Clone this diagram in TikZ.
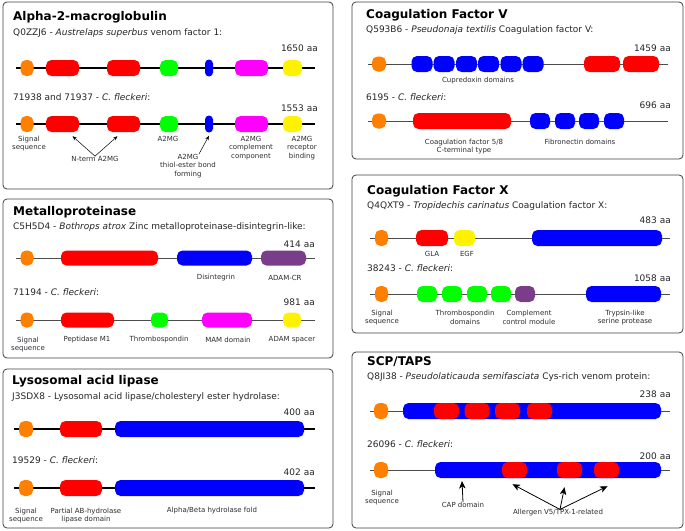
\documentclass[tikz,border=0pt]{standalone}
\usepackage{fontspec}
\setmainfont{DejaVu Sans}
\usetikzlibrary{arrows.meta, positioning, calc}
\definecolor{adampurple}{RGB}{122,61,138}
\definecolor{labgray}{RGB}{45,45,50}
\definecolor{mamcolor}{RGB}{255,0,255}
\definecolor{sigorange}{RGB}{255,128,0}
\tikzset{
        x=1pt, y=-1pt,
        panel/.style={draw=black!75, line width=0.8pt, rounded corners=4pt, fill=white}, % frame round each family
        title/.style={anchor=west, inner sep=0pt, font=\fontsize{12}{14}\selectfont\bfseries},
        sub/.style={anchor=west, inner sep=0pt, text=black!85, font=\fontsize{9}{11}\selectfont},
        len/.style={anchor=east, inner sep=0pt, text=black!85, font=\fontsize{9}{11}\selectfont},
        lab/.style={align=center, inner sep=0pt, text=labgray, font=\fontsize{7}{8.5}\selectfont},
        domain/.style={rectangle, fill=#1, rounded corners=5.5pt, inner sep=0pt, minimum height=16pt},
        thickbone/.style={line width=2pt, black},
        thinbone/.style={line width=0.9pt, black!70},
        pointer/.style={-{Stealth[length=4.5pt,width=3.5pt]}, line width=0.5pt},
        bigpointer/.style={-{Stealth[length=7.5pt,width=6.5pt,inset=2pt]}, line width=0.8pt},
}
\begin{document}
\begin{tikzpicture}
\useasboundingbox (0,0) rectangle (685,530);

% ---- Alpha-2-macroglobulin
\draw[panel] (3,2) rectangle (333,189);
\node[title] (a2t) at (13,17) {Alpha-2-macroglobulin};
\node[sub] (a2s) at (13,33) {Q0ZZJ6 - \textit{Austrelaps superbus} venom factor 1:};
\node[len] (a2l) at (318,48) {1650 aa};
\node[sub] (a2s2) at (13,97) {71938 and 71937 - \textit{C. fleckeri}:};
\node[len] (a2l2) at (318,108) {1553 aa};
\foreach \y/\p in {68/a, 124/b}{
  \coordinate (\p a2w) at (16,\y);
  \coordinate (\p a2e) at (315,\y);
  \draw[thickbone] (\p a2w) -- (\p a2e);
  \foreach \n/\x/\w/\c in {sig/27/13/sigorange, nt1/62.5/33/red, nt2/123.5/33/red, mg/169/18/green,
                           me/292.5/19/yellow, cc/251.5/33/mamcolor}
    \node[domain=\c, minimum width=\w pt] (\p a2\n) at (\x,\y) {};
  \node[domain=blue, minimum width=8pt, minimum height=17pt, rounded corners=4pt] (\p a2th) at (209,\y) {};
}
\node[lab] (a2sig) at (29,143.5) {Signal\\sequence};
\node[lab] (a2nt) at (95,159) {N-term A2MG};
\node[lab] (a2mg) at (168,139) {A2MG};
\node[lab] (a2th) at (188,166) {A2MG\\thiol-ester bond\\forming};
\node[lab] (a2cc) at (251,148) {A2MG\\complement\\component};
\node[lab] (a2rb) at (302,148) {A2MG\\receptor\\binding};
\draw[pointer] (a2nt.north) -- ([shift={(10pt,-4pt)}]ba2nt1.south);
\draw[pointer] (a2nt.north) -- ([shift={(-6pt,-4pt)}]ba2nt2.south);
\draw[pointer] ([xshift=11pt]a2th.north) -- ([yshift=-3pt]ba2th.south);

% ---- Metalloproteinase
\draw[panel] (3,199) rectangle (333,358);
\node[title] (mpt) at (13,212) {Metalloproteinase};
\node[sub] (mps) at (13,227) {C5H5D4 - \textit{Bothrops atrox} Zinc metalloproteinase-disintegrin-like:};
\node[len] (mpl) at (315,244) {414 aa};
\coordinate (mpw) at (16,258);
\coordinate (mpe) at (315,258);
\draw[thinbone] (mpw) -- (mpe);
\foreach \n/\x/\w/\c in {sig/27/13/sigorange, mp/109.5/97/red, dis/214.5/75/blue, cr/283.5/45/adampurple}
  \node[domain=\c, minimum width=\w pt, minimum height=15pt] (amp\n) at (\x,258) {};
\node[lab] (mpdis) at (216,278) {Disintegrin};
\node[lab] (mpcr) at (285,278) {ADAM-CR};
\node[sub] (mps2) at (13,292) {71194 - \textit{C. fleckeri}:};
\node[len] (mpl2) at (315,302) {981 aa};
\coordinate (bmpw) at (16,320);
\coordinate (bmpe) at (315,320);
\draw[thinbone] (bmpw) -- (bmpe);
\foreach \n/\x/\w/\c in {sig/27/13/sigorange, pm/87.5/53/red, ts/159.5/17/green, mam/227/50/mamcolor, sp/292/18/yellow}
  \node[domain=\c, minimum width=\w pt, minimum height=15pt] (bmp\n) at (\x,320) {};
\node[lab] (mpsig) at (28,344.5) {Signal\\sequence};
\foreach \n/\x/\t in {pm/87/Peptidase M1, ts/159/Thrombospondin, mam/228/MAM domain, sp/292/ADAM spacer}
  \node[lab] (mp\n) at (\x,340) {\t};

% ---- Lysosomal acid lipase
\draw[panel] (3,369) rectangle (333,528);
\node[title] (llt) at (12,381) {Lysosomal acid lipase};
\node[sub] (lls) at (12,397) {J3SDX8 - Lysosomal acid lipase/cholesteryl ester hydrolase:};
\node[len] (lll) at (315,412) {400 aa};
\node[sub] (lls2) at (12,460) {19529 - \textit{C. fleckeri}:};
\node[len] (lll2) at (315,472) {402 aa};
\foreach \y/\p in {429/a, 488/b}{
  \coordinate (\p llw) at (14,\y);
  \coordinate (\p lle) at (315,\y);
  \draw[thickbone] (\p llw) -- (\p lle);
  \foreach \n/\x/\w/\c in {sig/26/14/sigorange, ab/81/42/red, fold/209.5/189/blue}
    \node[domain=\c, minimum width=\w pt] (\p ll\n) at (\x,\y) {};
}
\node[lab] (llsig) at (26,515.5) {Signal\\sequence};
\node[lab] (llab) at (86,515.5) {Partial AB-hydrolase\\lipase domain};
\node[lab] (llfold) at (212,511) {Alpha/Beta hydrolase fold};

% ---- Coagulation Factor V
\draw[panel] (352,2) rectangle (683,159);
\node[title] (fvt) at (366,15) {Coagulation Factor V};
\node[sub] (fvs) at (366,30) {Q593B6 - \textit{Pseudonaja textilis} Coagulation factor V:};
\node[len] (fvl) at (671,48) {1459 aa};
\coordinate (fvw) at (368,64);
\coordinate (fve) at (668,64);
\draw[thinbone] (fvw) -- (fve);
\node[domain=sigorange, minimum width=14pt, minimum height=15pt] (afvsig) at (379,64) {};
\foreach \x [count=\i] in {422,444,466.5,488.5,511,533}
  \node[domain=blue, minimum width=21pt] (afvcu\i) at (\x,64) {};
\foreach \x [count=\i] in {602,641}
  \node[domain=red, minimum width=36pt] (afvc\i) at (\x,64) {};
\node[lab] (fvcu) at (478,81) {Cupredoxin domains};
\node[sub] (fvs2) at (366,97) {6195 - \textit{C. fleckeri}:};
\node[len] (fvl2) at (671,105) {696 aa};
\coordinate (bfvw) at (368,121);
\coordinate (bfve) at (668,121);
\draw[thinbone] (bfvw) -- (bfve);
\node[domain=sigorange, minimum width=14pt, minimum height=15pt] (bfvsig) at (379,121) {};
\node[domain=red, minimum width=98pt] (bfvc) at (462,121) {};
\foreach \x [count=\i] in {540,565,589,614}
  \node[domain=blue, minimum width=20pt] (bfvfn\i) at (\x,121) {};
\node[lab] (fvc) at (464,146.5) {Coagulation factor 5/8\\C-terminal type};
\node[lab] (fvfn) at (580,142) {Fibronectin domains};

% ---- Coagulation Factor X
\draw[panel] (352,175) rectangle (683,333);
\node[title] (fxt) at (367,191) {Coagulation Factor X};
\node[sub] (fxs) at (367,206) {Q4QXT9 - \textit{Tropidechis carinatus} Coagulation factor X:};
\node[len] (fxl) at (671,220) {483 aa};
\coordinate (fxw) at (370,238);
\coordinate (fxe) at (670,238);
\draw[thinbone] (fxw) -- (fxe);
\foreach \n/\x/\w/\c in {sig/381.5/13/sigorange, gla/432/32/red, egf/464.5/21/yellow, tr/597/130/blue}
  \node[domain=\c, minimum width=\w pt] (afx\n) at (\x,238) {};
\node[lab] (fxgla) at (432,254) {GLA};
\node[lab] (fxegf) at (467,254) {EGF};
\node[sub] (fxs2) at (367,268) {38243 - \textit{C. fleckeri}:};
\node[len] (fxl2) at (671,278) {1058 aa};
\coordinate (bfxw) at (370,294);
\coordinate (bfxe) at (670,294);
\draw[thinbone] (bfxw) -- (bfxe);
\node[domain=sigorange, minimum width=13pt] (bfxsig) at (381.5,294) {};
\foreach \x [count=\i] in {427,452,477,501}
  \node[domain=green, minimum width=20pt] (bfxts\i) at (\x,294) {};
\node[domain=adampurple, minimum width=20pt] (bfxccp) at (525,294) {};
\node[domain=blue, minimum width=75pt] (bfxtr) at (623.5,294) {};
\foreach \n/\x/\t in {sig/382/Signal\\sequence, ts/465/Thrombospondin\\domains,
                      ccp/529/Complement\\control module, tr/625/Trypsin-like\\serine protease}
  \node[lab] (fx\n) at (\x,317.5) {\t};

% ---- SCP/TAPS
\draw[panel] (352,352) rectangle (683,528);
\node[title] (sct) at (367,362) {SCP/TAPS};
\node[sub] (scs) at (367,377) {Q8JI38 - \textit{Pseudolaticauda semifasciata} Cys-rich venom protein:};
\node[len] (scl) at (671,394) {238 aa};
\coordinate (scw) at (370,411);
\coordinate (sce) at (670,411);
\draw[thinbone] (scw) -- (sce);
\node[domain=sigorange, minimum width=14pt] (ascsig) at (381,411) {};
\node[domain=blue, minimum width=258pt] (asccap) at (532,411) {};
\foreach \x [count=\i] in {446.5,477,507.5,539.5}
  \node[domain=red, minimum width=25pt] (ascv\i) at (\x,411) {};
\node[sub] (scs2) at (367,444) {26096 - \textit{C. fleckeri}:};
\node[len] (scl2) at (671,456) {200 aa};
\coordinate (bscw) at (370,470);
\coordinate (bsce) at (670,470);
\draw[thinbone] (bscw) -- (bsce);
\node[domain=sigorange, minimum width=14pt] (bscsig) at (381,470) {};
\node[domain=blue, minimum width=226pt] (bsccap) at (548,470) {};
\foreach \x [count=\i] in {514.5,569.5,606.5}
  \node[domain=red, minimum width=25pt] (bscv\i) at (\x,470) {};
\node[lab] (scsig) at (382,497.5) {Signal\\sequence};
\node[lab] (sccap) at (463,505) {CAP domain};
\node[lab] (scv) at (558,513) {Allergen V5/TPX-1-related};
\coordinate (capend) at (462,481);
\draw[bigpointer] (sccap.north) -- (capend);
\draw[bigpointer] ([xshift=2pt]scv.north) -- ([shift={(-2pt,-6pt)}]bscv1.south);
\draw[bigpointer] ([xshift=2pt]scv.north) -- ([shift={(-5pt,-9pt)}]bscv2.south);
\draw[bigpointer] ([xshift=2pt]scv.north) -- ([shift={(1pt,-8pt)}]bscv3.south);
\end{tikzpicture}
\end{document}
